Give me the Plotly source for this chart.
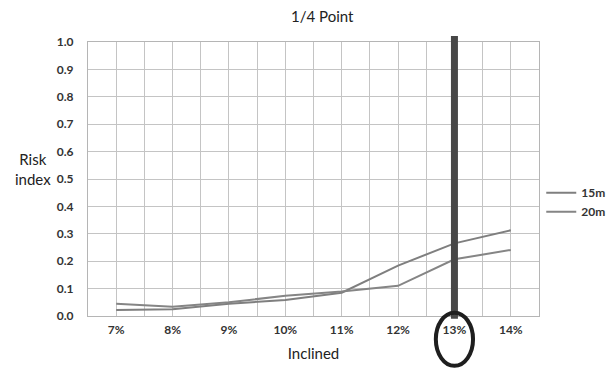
import plotly.graph_objects as go

categories = ["7%", "8%", "9%", "10%", "11%", "12%", "13%", "14%"]
series_15m = [0.022, 0.025, 0.045, 0.058, 0.085, 0.184, 0.265, 0.313]
series_20m = [0.045, 0.034, 0.050, 0.074, 0.089, 0.110, 0.207, 0.241]
y_ticks = [0.0, 0.1, 0.2, 0.3, 0.4, 0.5, 0.6, 0.7, 0.8, 0.9, 1.0]
highlight = "13%"

xs = list(range(len(categories)))
hi = categories.index(highlight)

fig = go.Figure()
fig.add_trace(go.Scatter(x=xs, y=series_15m, mode="lines", name="15m",
                         line=dict(color="#7f7f7f", width=2)))
fig.add_trace(go.Scatter(x=xs, y=series_20m, mode="lines", name="20m",
                         line=dict(color="#858585", width=2)))

fig.update_layout(
    width=606, height=360,
    margin=dict(l=80, r=75, t=34, b=52, autoexpand=False),
    paper_bgcolor="white", plot_bgcolor="white",
    font=dict(family="Lato, 'Open Sans', sans-serif", color="#222"),
    showlegend=True,
    legend=dict(x=1.005, y=0.415, xanchor="left", yanchor="middle",
                font=dict(size=12, color="#333", family="Lato", weight="bold"),
                itemwidth=30, tracegroupgap=2, bgcolor="rgba(0,0,0,0)"),
    xaxis=dict(range=[-0.5, len(categories) - 0.5], tickvals=xs, ticktext=categories,
               showgrid=True, gridcolor="#c4c4c4", gridwidth=1,
               minor=dict(dtick=0.5, tick0=0.5, showgrid=True, gridcolor="#c4c4c4", gridwidth=1),
               showline=True, linecolor="#b5b5b5", mirror=True, zeroline=False,
               tickfont=dict(size=12, color="#333", family="Lato", weight="bold"),
               ticklabelstandoff=3, automargin=False,
               title=dict(text="Inclined", font=dict(size=15, color="#222"), standoff=12)),
    yaxis=dict(range=[0, 1], tickvals=y_ticks, ticktext=[f"{v:.1f}" for v in y_ticks],
               showgrid=True, gridcolor="#c4c4c4", gridwidth=1,
               showline=True, linecolor="#b5b5b5", mirror=True, zeroline=False,
               tickfont=dict(size=12, color="#333", family="Lato", weight="bold"),
               ticklabelstandoff=11, automargin=False),
)

fig.add_annotation(text="1/4 Point", xref="paper", yref="paper",
                   x=0.52, y=1.095, xanchor="center", yanchor="middle",
                   showarrow=False, font=dict(size=15, color="#222"))
fig.add_annotation(text="Risk<br>index", xref="paper", yref="paper",
                   x=-0.122, y=0.535, xanchor="center", yanchor="middle",
                   showarrow=False, font=dict(size=15, color="#222"), align="center")

# highlight bar and ellipse around the 13% category
fig.add_shape(type="line", xref="x", yref="paper", x0=hi, x1=hi, y0=-0.01, y1=1.022,
              line=dict(color="#474747", width=7), layer="above")
fig.add_shape(type="circle", xref="x", yref="paper", x0=hi - 0.33, x1=hi + 0.33,
              y0=-0.182, y1=0.012, line=dict(color="#1e1e1e", width=4),
              fillcolor="rgba(0,0,0,0)", layer="above")

fig.write_html("out.html")
